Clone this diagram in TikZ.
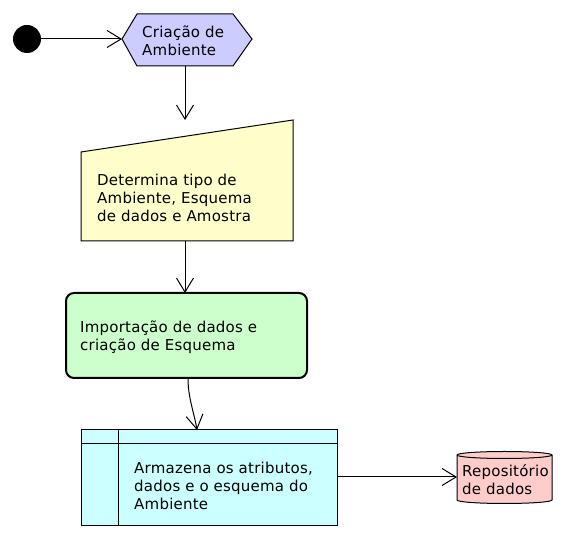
\documentclass[tikz,border=0pt]{standalone}
\usepackage{fontspec}
\setmainfont[LetterSpace=1.5]{DejaVu Sans}
\usetikzlibrary{arrows.meta}
\definecolor{hexfill}{HTML}{CCCCFF}
\definecolor{trapfill}{HTML}{FFFFCC}
\definecolor{greenfill}{HTML}{CCFFCC}
\definecolor{cyanfill}{HTML}{CCFFFF}
\definecolor{cylfill}{HTML}{FFCCCC}
\tikzset{
  shapeline/.style={draw=black, line width=1pt},
  flow/.style={draw=black, line width=1pt, -{Straight Barb[length=14pt,width=17pt,line width=1pt]}},
  lbl/.style={anchor=base west, inner sep=0pt, font=\fontsize{15}{18}\selectfont},
}
\newcommand{\mlines}[1]{\begin{tabular}[t]{@{}l@{}}#1\end{tabular}}
\begin{document}
\begin{tikzpicture}[x=1pt,y=1pt]
\useasboundingbox (0,0) rectangle (566,538);
% start
\fill[black] (27,499) circle (14);
\coordinate (start) at (41,499);
% hexagon
\filldraw[shapeline, fill=hexfill] (122,499) -- (137,524) -- (233,524) -- (252,499) -- (233,472) -- (137,472) -- cycle;
\coordinate (hexW) at (122,499);
\coordinate (hexS) at (185,472);
\node[lbl] (t1) at (142,500) {\mlines{Criação de\\Ambiente}};
% trapezoid
\filldraw[shapeline, fill=trapfill] (81,386) -- (293,418) -- (293,297) -- (81,297) -- cycle;
\coordinate (trapN) at (185,418);
\coordinate (trapS) at (185,297);
\node[lbl] (t2) at (97,352) {\mlines{Determina tipo de\\Ambiente, Esquema\\de dados e Amostra}};
% green rounded box
\filldraw[draw=black, line width=2pt, fill=greenfill, rounded corners=8pt] (66,160) rectangle (307,245);
\coordinate (grnN) at (185,245);
\coordinate (grnS) at (188,160);
\node[lbl] (t3) at (80,205) {\mlines{Importação de dados e\\criação de Esquema}};
% cyan box
\filldraw[shapeline, fill=cyanfill] (81,12) rectangle (337,108);
\draw[shapeline] (81,94) -- (337,94);
\draw[shapeline] (118,12) -- (118,108);
\coordinate (cyaN) at (197,108);
\coordinate (cyaE) at (337,61);
\node[lbl] (t4) at (134,64) {\mlines{Armazena os atributos,\\dados e o esquema do\\Ambiente}};
% cylinder
\filldraw[shapeline, fill=cylfill] (457,83) -- (457,38) arc[start angle=180, end angle=360, x radius=47.5, y radius=3.5] -- (552,83) arc[start angle=0, end angle=180, x radius=47.5, y radius=3.5] -- cycle;
\draw[shapeline] (457,83) arc[start angle=180, end angle=360, x radius=47.5, y radius=3.5];
\coordinate (cylW) at (457,61);
\node[lbl] (t5) at (462,61) {\mlines{Repositório\\de dados}};
% connectors
\draw[flow] (start) -- (hexW);
\draw[flow] (hexS) -- (trapN);
\draw[flow] (trapS) -- (grnN);
\draw[flow] (grnS) .. controls (188,140) and (194,126) .. (cyaN);
\draw[flow] (cyaE) -- (cylW);
\end{tikzpicture}
\end{document}
